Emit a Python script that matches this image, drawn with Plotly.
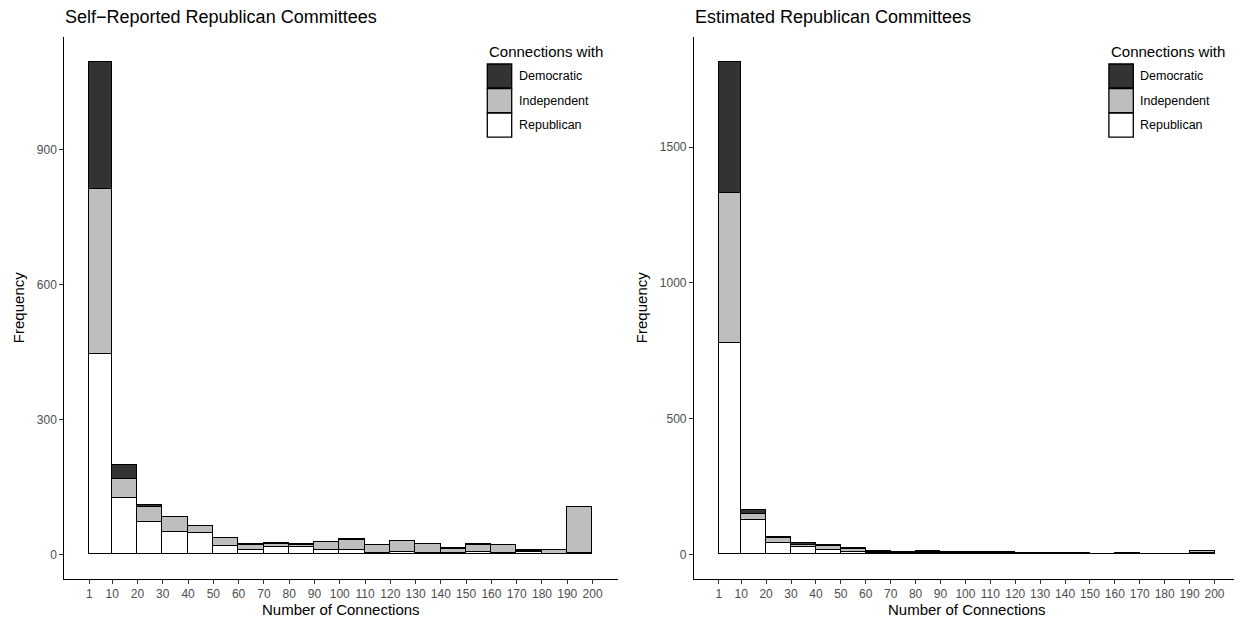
import plotly.graph_objects as go

# ---------------- data ----------------
bin_edges = [1, 10, 20, 30, 40, 50, 60, 70, 80, 90, 100,
             110, 120, 130, 140, 150, 160, 170, 180, 190, 200]
tick_labels = [str(e) for e in bin_edges]
categories = ["Republican", "Independent", "Democratic"]

# Self-reported Republican committees (counts per bin)
self_rep = [445, 125, 72, 50, 46, 19, 9, 16, 15, 10, 10, 2, 4, 3, 2, 4, 3, 4, 1, 2]
self_ind = [368, 43, 33, 32, 16, 16, 12, 6, 6, 17, 22, 18, 25, 20, 10, 17, 18, 3, 9, 103]
self_dem = [283, 30, 4, 1, 1, 1, 2, 2, 1, 1, 1, 0, 1, 0, 1, 1, 0, 1, 0, 0]

# Estimated Republican committees (counts per bin)
est_rep = [778, 127, 39, 25, 15, 9, 3, 2, 3, 2, 2, 2, 1, 1, 1, 1, 1, 0, 1, 3]
est_ind = [551, 21, 19, 7, 14, 8, 3, 2, 5, 2, 2, 2, 2, 2, 1, 1, 2, 1, 1, 7]
est_dem = [485, 13, 6, 7, 4, 4, 6, 2, 2, 2, 2, 2, 2, 2, 1, 0, 2, 0, 0, 2]

y_ticks_left = [0, 300, 600, 900]
y_ticks_right = [0, 500, 1000, 1500]

# ---------------- style ----------------
OFF = 8                      # default page body margin
W, H = 1242 - OFF, 621 - OFF
FONT = "Liberation Sans, Arial, sans-serif"
fills = {"Democratic": "#333333", "Independent": "#BEBEBE", "Republican": "#FFFFFF"}

def fx(p):
    return (p - OFF) / W

def fy(p):
    return 1 - (p - OFF) / H

mids = [(a + b) / 2 for a, b in zip(bin_edges[:-1], bin_edges[1:])]
widths = [b - a for a, b in zip(bin_edges[:-1], bin_edges[1:])]

fig = go.Figure()

panels = [
    ("x", "y", {"Republican": self_rep, "Independent": self_ind, "Democratic": self_dem}),
    ("x2", "y2", {"Republican": est_rep, "Independent": est_ind, "Democratic": est_dem}),
]
for xa, ya, series in panels:
    for cat in categories:
        fig.add_trace(go.Bar(
            x=mids, y=series[cat], width=widths, name=cat,
            xaxis=xa, yaxis=ya, showlegend=False,
            marker=dict(color=fills[cat], line=dict(color="black", width=1.1)),
            hoverinfo="x+y+name",
        ))

def totals(s):
    return [a + b + c for a, b, c in zip(s["Republican"], s["Independent"], s["Democratic"])]

max_l = max(totals(panels[0][2]))
max_r = max(totals(panels[1][2]))
xspan = bin_edges[-1] - bin_edges[0]
xr = [bin_edges[0] - 0.05 * xspan, bin_edges[-1] + 0.05 * xspan]

# panel pixel geometry (page pixels)
L1, R1 = 64.3, 617.7
L2, R2 = 694.0, 1239.3
TOP, BOT = 37.3, 579.0

common_x = dict(
    range=xr, tickmode="array", tickvals=bin_edges, ticktext=tick_labels,
    ticks="outside", ticklen=4, tickwidth=1, tickcolor="#333333",
    tickfont=dict(family=FONT, size=12, color="#4D4D4D"),
    showline=True, linecolor="black", linewidth=1.1,
    showgrid=False, zeroline=False, automargin=False, fixedrange=True,
)
common_y = dict(
    ticks="outside", ticklen=4, tickwidth=1, tickcolor="#333333",
    tickfont=dict(family=FONT, size=12, color="#4D4D4D"),
    showline=True, linecolor="black", linewidth=1.1,
    showgrid=False, zeroline=False, automargin=False, fixedrange=True,
    domain=[fy(BOT), fy(TOP)],
)

fig.update_layout(
    width=W, height=H,
    margin=dict(l=0, r=0, t=0, b=0),
    paper_bgcolor="white", plot_bgcolor="white",
    barmode="stack", bargap=0,
    showlegend=False,
    font=dict(family=FONT, color="black"),
    xaxis=dict(domain=[fx(L1), fx(R1)], anchor="y", **common_x),
    xaxis2=dict(domain=[fx(L2), fx(R2)], anchor="y2", **common_x),
    yaxis=dict(anchor="x", range=[-0.05 * max_l, 1.05 * max_l],
               tickvals=y_ticks_left, ticktext=[str(v) for v in y_ticks_left], **common_y),
    yaxis2=dict(anchor="x2", range=[-0.05 * max_r, 1.05 * max_r],
                tickvals=y_ticks_right, ticktext=[str(v) for v in y_ticks_right], **common_y),
)

ann = []
shapes = []
titles = ["Self\u2212Reported Republican Committees", "Estimated Republican Committees"]
for (L, R, ylab_x), title in zip([(L1, R1, 18), (L2, R2, 641)], titles):
    # plot title
    ann.append(dict(x=fx(L - 1), y=fy(17.5), xref="paper", yref="paper",
                    text=title, showarrow=False, xanchor="left", yanchor="middle",
                    font=dict(family=FONT, size=18, color="black")))
    # x axis title
    ann.append(dict(x=fx((L + R) / 2), y=fy(609), xref="paper", yref="paper",
                    text="Number of Connections", showarrow=False,
                    xanchor="center", yanchor="middle",
                    font=dict(family=FONT, size=15, color="black")))
    # y axis title
    ann.append(dict(x=fx(ylab_x), y=fy((TOP + BOT) / 2), xref="paper", yref="paper",
                    text="Frequency", showarrow=False, textangle=-90,
                    xanchor="center", yanchor="middle",
                    font=dict(family=FONT, size=15, color="black")))
    # legend
    kx0 = R - 130.4
    kx1 = kx0 + 24.4
    ann.append(dict(x=fx(kx0), y=fy(52), xref="paper", yref="paper",
                    text="Connections with", showarrow=False,
                    xanchor="left", yanchor="middle",
                    font=dict(family=FONT, size=15, color="black")))
    key_top = 64.0
    for i, cat in enumerate(["Democratic", "Independent", "Republican"]):
        y0 = key_top + i * 24.6
        y1 = y0 + 24.0
        shapes.append(dict(type="rect", xref="paper", yref="paper",
                           x0=fx(kx0), x1=fx(kx1), y0=fy(y1), y1=fy(y0),
                           fillcolor=fills[cat], line=dict(color="black", width=1.3)))
        ann.append(dict(x=fx(kx1 + 5), y=fy((y0 + y1) / 2), xref="paper", yref="paper",
                        text=cat, showarrow=False, xanchor="left", yanchor="middle",
                        font=dict(family=FONT, size=12.5, color="black")))

fig.update_layout(annotations=ann, shapes=shapes)
fig.write_html("out.html")
